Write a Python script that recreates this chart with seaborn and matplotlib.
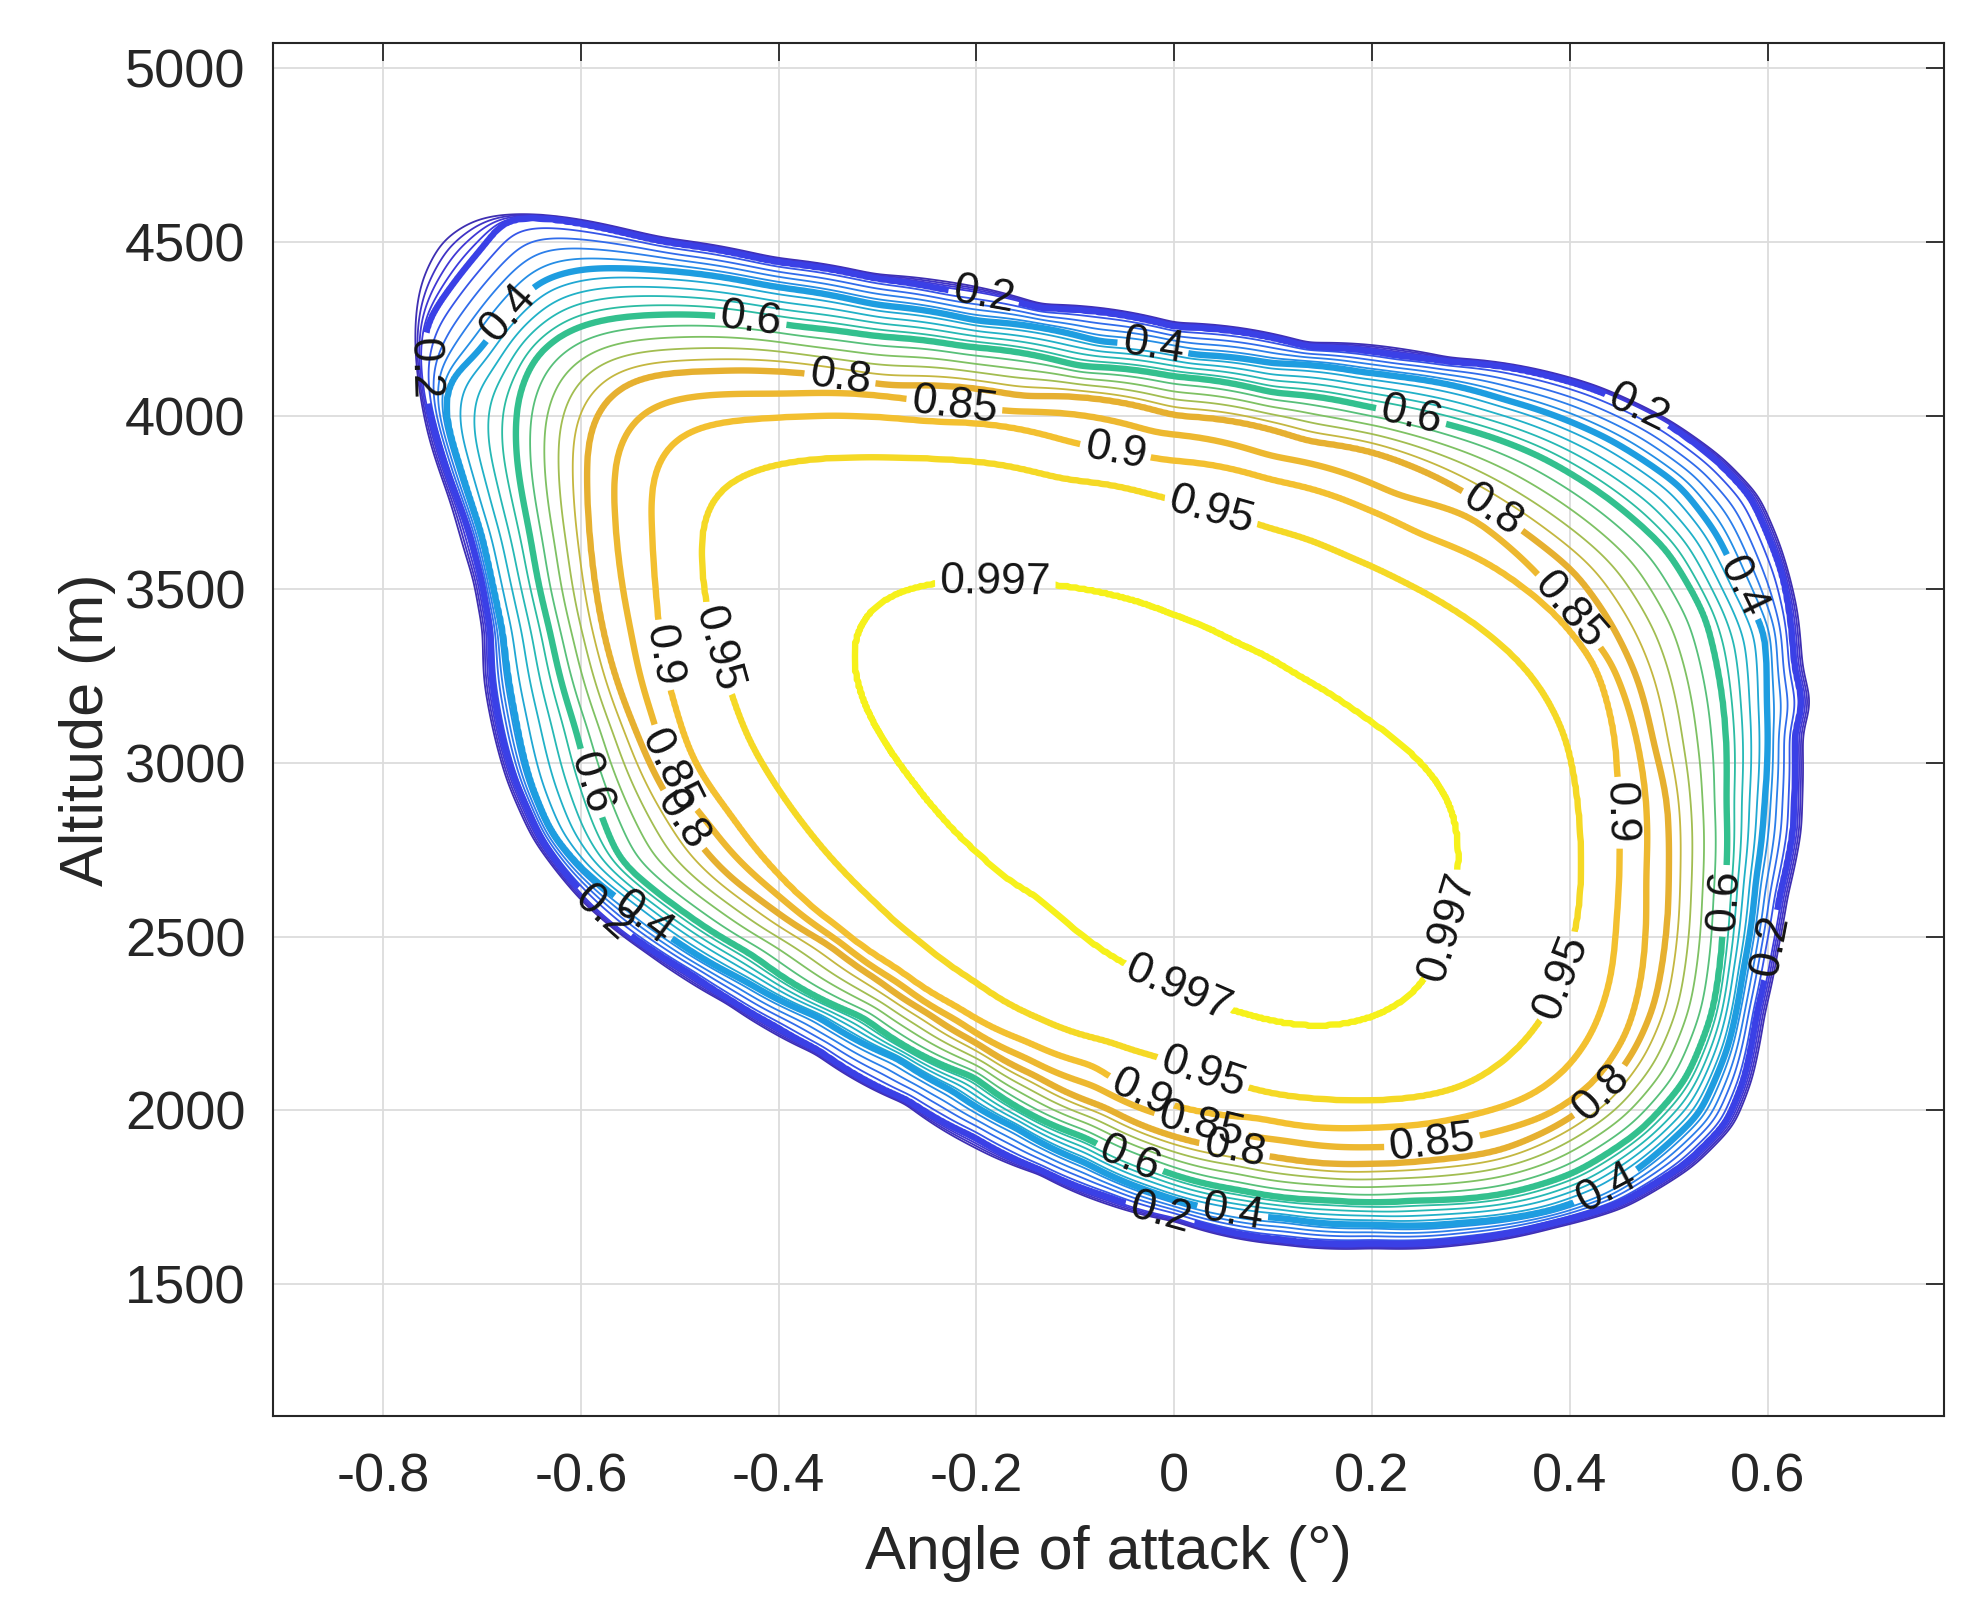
import numpy as np
import matplotlib
matplotlib.use("Agg")
import matplotlib.pyplot as plt
import seaborn as sns

sns.set_style("white")
plt.rcParams["font.family"] = ["Liberation Sans", "DejaVu Sans"]
plt.rcParams["axes.unicode_minus"] = False

# ---------------- contour curves ----------------
# x: angle of attack (deg), y: altitude (m)
edge_x = [-0.712,-0.648,-0.600,-0.522,-0.406,-0.303,-0.135,0.001,0.136,0.279,0.427,0.502,0.556,0.593,0.614,0.632,0.637,0.646,0.637,0.637,0.636,0.622,0.613,0.599,0.586,0.568,0.527,0.457,0.386,0.292,0.201,0.111,0.000,-0.137,-0.273,-0.364,-0.454,-0.535,-0.600,-0.650,-0.677,-0.700,-0.701,-0.710,-0.734,-0.757,-0.769,-0.770,-0.767,-0.748]
edge_y = [4578,4584,4568,4515,4457,4409,4323,4270,4212,4169,4089,3988,3880,3770,3632,3440,3277,3172,3085,2893,2807,2615,2471,2279,2087,1957,1838,1718,1660,1610,1600,1610,1678,1813,2017,2161,2307,2452,2600,2780,2952,3239,3383,3527,3757,3949,4180,4300,4400,4520]

x020 = [-0.677,-0.640,-0.600,-0.522,-0.406,-0.303,-0.231,-0.135,0.001,0.136,0.228,0.279,0.335,0.427,0.498,0.548,0.583,0.604,0.615,0.622,0.627,0.636,0.627,0.627,0.626,0.612,0.603,0.589,0.576,0.558,0.517,0.450,0.382,0.291,0.201,0.111,0.001,-0.067,-0.135,-0.203,-0.270,-0.360,-0.405,-0.450,-0.490,-0.530,-0.560,-0.590,-0.615,-0.640,-0.655,-0.667,-0.679,-0.690,-0.691,-0.700,-0.712,-0.724,-0.737,-0.747,-0.757,-0.761,-0.755,-0.724,-0.693]
y020 = [4572,4572,4554,4501,4443,4395,4362,4309,4256,4198,4172,4155,4141,4074,3978,3872,3767,3632,3546,3440,3277,3172,3085,2893,2807,2615,2471,2279,2087,1963,1847,1732,1675,1627,1617,1627,1694,1751,1828,1924,2030,2174,2245,2320,2395,2465,2525,2600,2680,2780,2874,2952,3066,3239,3383,3527,3662,3757,3853,3949,4054,4180,4275,4400,4506]

x040 = [-0.642,-0.600,-0.522,-0.406,-0.303,-0.200,-0.076,0.020,0.100,0.190,0.228,0.335,0.441,0.512,0.548,0.572,0.597,0.599,0.597,0.588,0.575,0.560,0.531,0.472,0.436,0.382,0.291,0.201,0.111,0.046,-0.022,-0.090,-0.160,-0.225,-0.280,-0.360,-0.435,-0.505,-0.551,-0.601,-0.630,-0.652,-0.667,-0.679,-0.690,-0.700,-0.722,-0.738,-0.735,-0.704,-0.677]
y040 = [4390,4424,4419,4370,4318,4272,4213,4175,4150,4125,4112,4045,3930,3795,3661,3517,3373,3181,2893,2663,2400,2183,1991,1838,1771,1713,1677,1672,1690,1712,1765,1850,1950,2058,2150,2270,2375,2490,2586,2700,2800,2951,3143,3383,3527,3661,3853,4000,4100,4179,4285]

x060 = [-0.648,-0.6145,-0.574,-0.473,-0.387,-0.303,-0.212,-0.096,0.000,0.100,0.1945,0.239,0.285,0.370,0.441,0.498,0.537,0.5546,0.558,0.556,0.553,0.544,0.517,0.472,0.404,0.3366,0.246,0.156,0.066,-0.020,-0.0896,-0.2025,-0.315,-0.428,-0.500,-0.5605,-0.5895,-0.605,-0.631,-0.651,-0.666,-0.665]
y060 = [4170,4247,4280,4290,4256,4227,4198,4141,4112,4065,4026,4000,3968,3882,3757,3613,3421,3181,2893,2600,2452,2279,2087,1943,1819,1761,1742,1742,1771,1835,1922,2097,2270,2452,2580,2720,2938,3100,3383,3661,3901,4045]

x080 = [-0.594,-0.5876,-0.564,-0.5336,-0.470,-0.3995,-0.338,-0.291,-0.154,0.000,0.136,0.200,0.260,0.322,0.363,0.406,0.441,0.468,0.485,0.498,0.500,0.497,0.485,0.465,0.433,0.390,0.330,0.261,0.200,0.111,0.061,0.000,-0.070,-0.140,-0.200,-0.250,-0.300,-0.350,-0.415,-0.452,-0.475,-0.497,-0.520,-0.545,-0.565,-0.5775,-0.5876,-0.593]
y080 = [3901,3997,4083,4117,4127,4127,4108,4083,4054,3999,3925,3895,3830,3727,3645,3545,3405,3245,3050,2893,2700,2500,2300,2170,2048,1960,1885,1858,1847,1862,1889,1925,2010,2100,2195,2282,2377,2480,2600,2680,2750,2836,2940,3100,3250,3383,3565,3757]

x085 = [-0.5605,-0.566,-0.567,-0.5605,-0.540,-0.5065,-0.3995,-0.284,-0.223,-0.165,-0.018,0.098,0.228,0.299,0.3666,0.400,0.441,0.462,0.477,0.4765,0.472,0.458,0.427,0.382,0.3186,0.260,0.201,0.111,0.029,-0.081,-0.150,-0.220,-0.280,-0.340,-0.400,-0.450,-0.473,-0.513,-0.523,-0.540,-0.549]
y085 = [3565,3757,3853,3929,4016,4050,4059,4052,4025,4010,3949,3882,3767,3709,3546,3434,3296,3133,2893,2663,2375,2222,2087,1991,1934,1905,1895,1915,1960,2072,2152,2261,2371,2491,2620,2750,2836,2980,3100,3250,3383]

x090 = [-0.527,-0.530,-0.5235,-0.5065,-0.480,-0.3995,-0.328,-0.250,-0.103,-0.060,-0.010,0.098,0.195,0.250,0.317,0.388,0.427,0.445,0.448,0.450,0.450,0.447,0.441,0.423,0.396,0.359,0.292,0.201,0.084,-0.034,-0.081,-0.150,-0.220,-0.280,-0.340,-0.400,-0.450,-0.485,-0.507,-0.518,-0.522]
y090 = [3661,3795,3872,3939,3973,3992,3998,3980,3920,3895,3871,3814,3730,3655,3575,3421,3277,3085,2942,2857,2737,2556,2374,2222,2115,2038,1981,1952,1981,2048,2130,2200,2300,2410,2530,2680,2860,3000,3191,3310,3450]

x095 = [-0.480,-0.476,-0.463,-0.439,-0.3995,-0.304,-0.237,-0.115,-0.018,0.036,0.094,0.176,0.229,0.278,0.316,0.363,0.395,0.406,0.411,0.409,0.399,0.386,0.359,0.329,0.292,0.252,0.201,0.150,0.084,0.036,-0.013,-0.066,-0.136,-0.203,-0.254,-0.304,-0.338,-0.372,-0.4055,-0.432,-0.446,-0.459,-0.473,-0.476]
y095 = [3661,3738,3795,3834,3863,3877,3872,3814,3767,3727,3676,3593,3524,3448,3375,3248,3085,2929,2759,2567,2440,2331,2211,2131,2066,2041,2030,2034,2059,2106,2153,2200,2265,2375,2481,2606,2701,2816,2951,3076,3191,3310,3441,3528]

x0997 = [-0.2535,-0.181,-0.120,-0.066,-0.003,0.061,0.125,0.182,0.227,0.259,0.278,0.287,0.288,0.284,0.271,0.259,0.242,0.214,0.189,0.157,0.118,0.073,0.036,-0.003,-0.041,-0.079,-0.110,-0.136,-0.1965,-0.237,-0.2706,-0.301,-0.321,-0.3297,-0.328,-0.305]
y0997 = [3517,3517,3510,3484,3426,3346,3248,3147,3056,2976,2904,2820,2719,2603,2476,2385,2327,2280,2255,2240,2248,2280,2313,2360,2411,2476,2545,2615,2740,2855,2980,3095,3220,3316,3383,3469]

curve_values = [0.0, 0.2, 0.4, 0.6, 0.8, 0.85, 0.9, 0.95, 0.997]
curve_x = [edge_x, x020, x040, x060, x080, x085, x090, x095, x0997]
curve_y = [edge_y, y020, y040, y060, y080, y085, y090, y095, y0997]
trace_smoothing_px = [9, 9, 10, 12, 13, 14, 15, 18, 20]   # drawing only: softens hand-tracing jitter

# contour levels drawn in the chart
minor_levels = [0.04, 0.08, 0.12, 0.16, 0.24, 0.28, 0.32, 0.36, 0.44, 0.48,
                0.52, 0.56, 0.64, 0.68, 0.72, 0.76]
major_levels = [0.2, 0.4, 0.6, 0.8, 0.85, 0.9, 0.95, 0.997]

# contour label positions
label_level = [0.2, 0.2, 0.2, 0.2, 0.2, 0.2,
               0.4, 0.4, 0.4, 0.4, 0.4, 0.4,
               0.6, 0.6, 0.6, 0.6, 0.6,
               0.8, 0.8, 0.8, 0.8, 0.8,
               0.85, 0.85, 0.85, 0.85, 0.85,
               0.9, 0.9, 0.9, 0.9,
               0.95, 0.95, 0.95, 0.95,
               0.997, 0.997, 0.997]
label_x = [-0.194, 0.465, 0.603, -0.757, -0.572, -0.015,
           -0.678, -0.022, 0.571, 0.437, -0.544, 0.059,
           -0.429, 0.239, 0.558, -0.592, -0.043,
           -0.338, 0.322, 0.433, -0.497, 0.061,
           -0.223, 0.399, -0.516, 0.261, 0.029,
           -0.060, 0.450, -0.518, -0.034,
           0.036, 0.390, -0.464, 0.027,
           -0.181, 0.265, 0.004]
label_y = [4325, 4000, 2476, 4137, 2585, 1696,
           4307, 4188, 3502, 1776, 2530, 1707,
           4260, 3992, 2603, 2940, 1878,
           4108, 3727, 2048, 2836, 1889,
           4017, 3437, 2969, 1903, 1976,
           3890, 2857, 3310, 2048,
           3709, 2385, 3328, 2084,
           3510, 2530, 2360]

x_ticks = [-0.8, -0.6, -0.4, -0.2, 0.0, 0.2, 0.4, 0.6]
x_tick_labels = ["-0.8", "-0.6", "-0.4", "-0.2", "0", "0.2", "0.4", "0.6"]
y_ticks = [1500, 2000, 2500, 3000, 3500, 4000, 4500, 5000]
x_limits = (-0.911, 0.778)
y_limits = (1120, 5072)

# ---------------- field whose level sets are the read curves ----------------
gx = np.linspace(x_limits[0], x_limits[1], 1000)
gy = np.linspace(y_limits[0], y_limits[1], 1000)
X, Y = np.meshgrid(gx, gy)
cx, cy, sx, sy = -0.02, 2880.0, 0.2, 569.4      # one unit ~ 198 px on screen
TH = np.arctan2((Y - cy) / sy, (X - cx) / sx)
RR = np.hypot((X - cx) / sx, (Y - cy) / sy)

NT = 4096
th_grid = np.linspace(-np.pi, np.pi, NT, endpoint=False)
didx = np.minimum(np.arange(NT), NT - np.arange(NT))
radii = []
for xs, ys, spx in zip(curve_x, curve_y, trace_smoothing_px):
    u = (np.asarray(xs) - cx) / sx
    v = (np.asarray(ys) - cy) / sy
    r_t = np.interp(th_grid, np.arctan2(v, u), np.hypot(u, v), period=2 * np.pi)
    sig = (spx / 198.0) / r_t.mean() / (2 * np.pi / NT)
    ker = np.exp(-0.5 * (didx / sig) ** 2)
    ker /= ker.sum()
    r_t = np.real(np.fft.ifft(np.fft.fft(r_t) * np.fft.fft(ker)))
    radii.append(np.interp(TH, th_grid, r_t, period=2 * np.pi))
radii = np.array(radii)
for k in range(1, len(radii)):
    radii[k] = np.minimum(radii[k], radii[k - 1] - 1e-3)
Z = -(RR - radii[0])
for k in range(len(radii) - 1):
    r0, r1 = radii[k], radii[k + 1]
    m = (RR <= r0) & (RR > r1)
    t = (r0 - RR) / (r0 - r1)
    Z = np.where(m, curve_values[k] + t * (curve_values[k + 1] - curve_values[k]), Z)
core = RR <= radii[-1]
Z = np.where(core, curve_values[-1] + (1 - RR / radii[-1]) * (1 - curve_values[-1]), Z)

# ---------------- colours (parula-like) ----------------
cmap = sns.blend_palette(["#3b2a9e", "#4236d0", "#3a40e6", "#2f78ec", "#1e9de0", "#22b6c0",
                          "#33c08e", "#8fc15a", "#e6b030", "#f3bf30", "#f6f11b"],
                         n_colors=256, as_cmap=True)

# ---------------- figure ----------------
fig = plt.figure(figsize=(19.75, 16.11), dpi=100)
ax = fig.add_axes([0.1384, 0.1210, 0.8457, 0.8521])
ax.set_xlim(*x_limits)
ax.set_ylim(*y_limits)
ax.grid(True, color="#dcdcdc", linewidth=1.3, zorder=0)
ax.set_axisbelow(True)

ax.contour(X, Y, Z, levels=minor_levels, colors=[cmap(l) for l in minor_levels],
           linewidths=1.3, zorder=3)

fmt = lambda v: f"{v:g}"
for lev in major_levels:
    cs = ax.contour(X, Y, Z, levels=[lev], colors=[cmap(lev)], linewidths=4.6, zorder=4)
    pts = [(px, py) for L, px, py in zip(label_level, label_x, label_y) if L == lev]
    cs.clabel(manual=pts, inline=True, inline_spacing=5,
              fontsize=32, fmt=fmt, colors="#141414")

ax.set_xticks(x_ticks)
ax.set_xticklabels(x_tick_labels)
ax.set_yticks(y_ticks)
ax.tick_params(axis="both", direction="in", length=13, width=1.3, top=True, right=True,
               labelsize=39, colors="#262626", pad=20)
ax.tick_params(axis="x", pad=26)
for sp in ax.spines.values():
    sp.set_linewidth(1.5)
    sp.set_color("#262626")

ax.set_xlabel("Angle of attack (°)", fontsize=44, color="#262626")
ax.set_ylabel("Altitude (m)", fontsize=44, color="#262626")
ax.xaxis.set_label_coords(0.5, -0.079)
ax.yaxis.set_label_coords(-0.094, 0.5)

fig.savefig("out.png", dpi=100)
